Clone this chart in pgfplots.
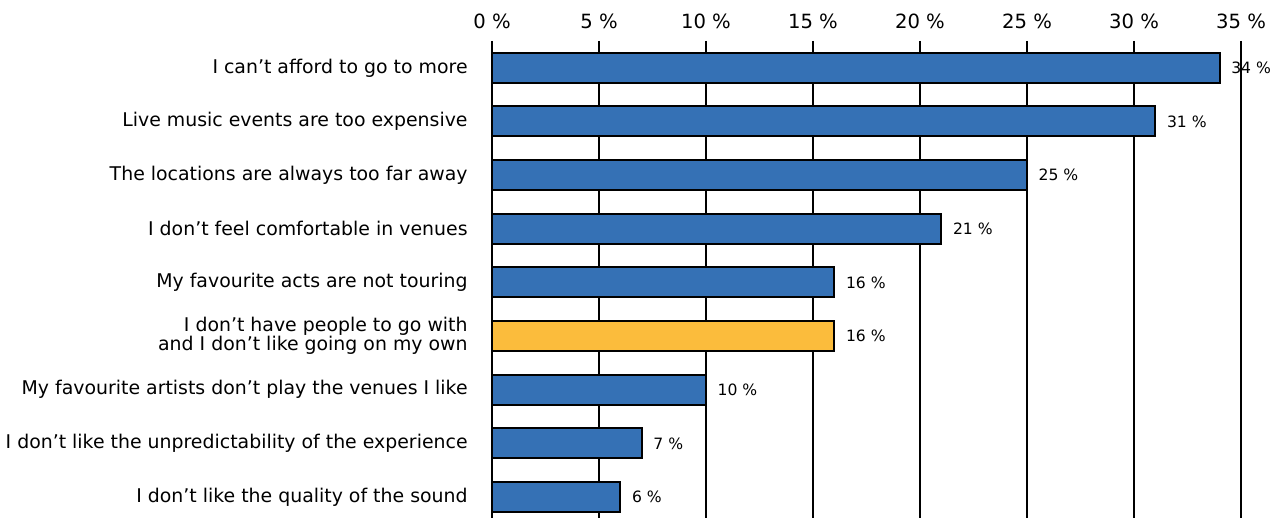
\documentclass[border=0pt]{standalone}
\usepackage{pgfplots}
\pgfplotsset{compat=1.18}
\usepackage{fontspec}
\setmainfont{DejaVu Sans}
\definecolor{barblue}{HTML}{3571B5}
\definecolor{baryellow}{HTML}{FBBC3C}
\begin{document}
\begin{tikzpicture}
\useasboundingbox (-246pt,0pt) rectangle (390pt,259pt);
\begin{axis}[
  at={(0pt,0pt)}, anchor=south west,
  scale only axis, width=374.5pt, height=238.5pt,
  xmin=0, xmax=35, ymin=-0.5, ymax=8.39, y dir=reverse,
  xbar, bar width=15pt, bar shift=0pt,
  axis line style={draw=none},
  major tick length=0pt,
  xtick={0,5,...,35},
  xticklabel pos=top,
  /pgf/number format/assume math mode=true,
  xticklabel={\pgfmathprintnumber{\tick}~\%},
  xticklabel style={font=\fontsize{9.8}{11}\selectfont, yshift=2.5pt},
  xmajorgrids, grid style={black, line width=1pt},
  ytick={0,...,8},
  yticklabels={I can’t afford to go to more, Live music events are too expensive, The locations are always too far away, I don’t feel comfortable in venues, My favourite acts are not touring, {I don’t have people to go with\\and I don’t like going on my own}, My favourite artists don’t play the venues I like, I don’t like the unpredictability of the experience, I don’t like the quality of the sound},
  yticklabel style={align=right, font=\fontsize{9.45}{9.6}\selectfont, inner xsep=0pt, xshift=-12pt},
  nodes near coords={\pgfmathprintnumber{\pgfplotspointmeta}~\%},
  every node near coord/.append style={font=\fontsize{7.8}{9}\selectfont, xshift=2pt, black},
  clip=false,
]
\addplot[fill=barblue, draw=black, line width=1pt] coordinates {(34,0) (31,1) (25,2) (21,3) (16,4) (10,6) (7,7) (6,8)};
\addplot[fill=baryellow, draw=black, line width=1pt] coordinates {(16,5)};
\end{axis}
\end{tikzpicture}
\end{document}
